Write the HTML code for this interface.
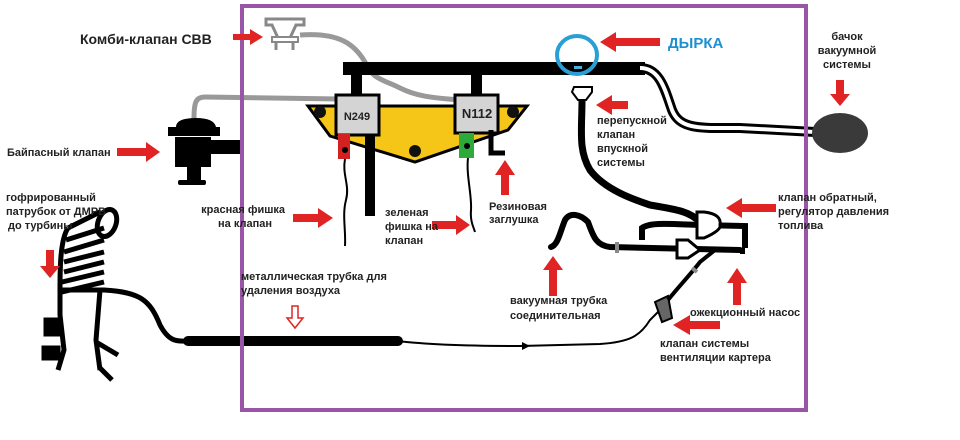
<!DOCTYPE html>
<html><head><meta charset="utf-8"><style>
html,body{margin:0;padding:0;background:#fff;}
svg{display:block;}
text{font-family:"Liberation Sans","DejaVu Sans",sans-serif;font-weight:bold;fill:#222;}
</style></head><body>
<svg width="960" height="440" viewBox="0 0 960 440" font-size="11" xmlns="http://www.w3.org/2000/svg">
<rect width="960" height="440" fill="#fff"/>

<path d="M300,35 C340,32 355,45 365,62 C372,80 385,80 400,88 C420,98 440,98 458,100" fill="none" stroke="#999" stroke-width="5"/>
<path d="M340,99 L205,97 C196,97 194,102 194,118" fill="none" stroke="#999" stroke-width="5"/>

<path d="M266,19 L304,19 L304,25 L296,25 L290,38 L278,38 L272,25 L266,25 Z" fill="#fff" stroke="#888" stroke-width="3"/>
<rect x="272" y="37" width="26" height="5" fill="#fff" stroke="#888" stroke-width="2"/>
<line x1="276" y1="42" x2="276" y2="50" stroke="#888" stroke-width="3"/>
<line x1="293" y1="42" x2="293" y2="50" stroke="#888" stroke-width="3"/>

<rect x="343" y="62" width="302" height="13" fill="#000"/>
<rect x="351" y="74" width="11" height="24" fill="#000"/>
<rect x="471" y="74" width="11" height="24" fill="#000"/>
<path d="M640,68 C660,68 665,90 672,110 C680,130 700,128 740,128 L815,132" fill="none" stroke="#000" stroke-width="10"/>
<path d="M640,68 C660,68 665,90 672,110 C680,130 700,128 740,128 L815,132" fill="none" stroke="#fff" stroke-width="4"/>
<ellipse cx="840" cy="133" rx="28" ry="20" fill="#3a3a3a"/>

<polygon points="308,106 527,106 508,130 415,162 330,136" fill="#f5c518" stroke="#000" stroke-width="3"/>
<circle cx="320" cy="112" r="6" fill="#111"/>
<circle cx="513" cy="112" r="6" fill="#111"/>
<circle cx="415" cy="151" r="6" fill="#111"/>
<rect x="365" y="128" width="10" height="88" fill="#000"/>
<rect x="336" y="95" width="43" height="40" fill="#d4d4d4" stroke="#000" stroke-width="3"/>
<text x="357" y="120" text-anchor="middle" font-size="11">N249</text>
<rect x="455" y="95" width="43" height="38" fill="#d4d4d4" stroke="#000" stroke-width="3"/>
<text x="477" y="118" text-anchor="middle" font-size="13">N112</text>
<rect x="338" y="134" width="12" height="25" fill="#d32020"/>
<circle cx="345" cy="150" r="3" fill="#000"/>
<rect x="459" y="133" width="15" height="25" fill="#2eaa3a"/>
<circle cx="467" cy="146" r="3" fill="#000"/>
<path d="M491,130 L491,153 L505,153" fill="none" stroke="#000" stroke-width="5"/>
<path d="M345,159 C342,175 350,185 346,200 C342,215 346,230 345,246" fill="none" stroke="#000" stroke-width="2"/>
<path d="M468,158 C466,175 472,195 471,210 C470,222 474,228 475,232" fill="none" stroke="#000" stroke-width="2"/>

<path d="M176,127 Q176,118 196,118 Q214,118 216,127 Z" fill="#000"/>
<rect x="168" y="127" width="52" height="9" fill="#000"/>
<rect x="175" y="137" width="36" height="30" fill="#000"/>
<rect x="211" y="140" width="30" height="14" fill="#000"/>
<rect x="187" y="167" width="14" height="14" fill="#000"/>
<rect x="178" y="180" width="28" height="5" rx="2" fill="#000"/>

<g fill="none" stroke="#000" stroke-width="5">
<ellipse cx="107" cy="223" rx="9" ry="14" transform="rotate(20 107 223)"/>
<path d="M100,212 L68,228 M104,228 L66,240 M104,240 L64,252 M104,252 L64,262 M104,262 L64,272 M104,272 L62,282 M104,282 L62,292"/>
<path d="M68,228 C60,240 60,270 60,290 L60,315 L64,350 L58,370 M100,290 L96,340 L100,370 M96,342 L118,355 M100,368 L112,380"/>
<path d="M60,290 L104,290 C140,292 150,300 160,325 C168,340 175,342 188,341"/>
<rect x="46" y="320" width="12" height="14" fill="#000"/>
<rect x="44" y="348" width="14" height="10" fill="#000"/>
</g>

<line x1="188" y1="341" x2="398" y2="341" stroke="#000" stroke-width="10" stroke-linecap="round"/>
<path d="M398,341 C430,345 480,346 520,346 L600,344 C630,342 640,336 650,320 L660,310" fill="none" stroke="#000" stroke-width="2"/>
<polygon points="522,342 530,346 522,350" fill="#000"/>
<polygon points="655,302 668,296 672,318 662,322" fill="#666" stroke="#000" stroke-width="2"/>
<path d="M668,300 C680,285 690,275 700,262 L715,250" fill="none" stroke="#000" stroke-width="4"/>
<line x1="692" y1="268" x2="697" y2="272" stroke="#888" stroke-width="4"/>

<path d="M574,87 L592,87 L592,92 L586,100 L578,100 L572,92 Z" fill="#fff" stroke="#000" stroke-width="2"/>
<path d="M582,100 C582,130 578,150 590,170 C605,190 635,200 650,205 C680,210 690,212 700,222" fill="none" stroke="#000" stroke-width="7"/>
<path d="M551,247 C558,245 560,232 565,220 C570,212 580,214 588,222 C593,235 595,245 610,247 L740,250" fill="none" stroke="#000" stroke-width="6" stroke-linecap="round"/>
<line x1="617" y1="242" x2="617" y2="253" stroke="#888" stroke-width="4"/>
<path d="M642,240 L642,228 C650,222 670,224 700,225 L745,226 L745,248" fill="none" stroke="#000" stroke-width="6"/>
<path d="M697,212 L697,238 L704,238 Q722,230 720,225 Q722,214 704,212 Z" fill="#fff" stroke="#000" stroke-width="3"/>
<path d="M677,240 L677,258 L688,258 L700,250 L688,240 Z" fill="#fff" stroke="#000" stroke-width="3"/>
<line x1="740" y1="251" x2="745" y2="251" stroke="#000" stroke-width="6"/>

<ellipse cx="577" cy="55" rx="20" ry="19" fill="none" stroke="#2a9fd6" stroke-width="4"/>
<rect x="574" y="66" width="8" height="3" fill="#4ab0e0"/>

<rect x="242" y="6" width="564" height="404" fill="none" stroke="#9b55a8" stroke-width="4"/>

<g fill="#e02424">
<polygon points="233,34 250,34 250,29 263,37 250,45 250,40 233,40"/>
<polygon points="117,148 146,148 146,142 160,152 146,162 146,156 117,156"/>
<polygon points="46,250 54,250 54,266 60,266 50,278 40,266 46,266"/>
<polygon points="293,214 318,214 318,208 333,218 318,228 318,222 293,222"/>
<polygon points="432,221 456,221 456,215 470,225 456,235 456,229 432,229"/>
<polygon points="501,195 509,195 509,175 515,175 505,160 495,175 501,175"/>
<polygon points="660,38 616,38 616,32 600,42 616,52 616,46 660,46"/>
<polygon points="628,101 612,101 612,95 596,105 612,115 612,109 628,109"/>
<polygon points="836,80 844,80 844,94 850,94 840,106 830,94 836,94"/>
<polygon points="776,204 742,204 742,198 726,208 742,218 742,212 776,212"/>
<polygon points="549,296 557,296 557,270 563,270 553,256 543,270 549,270"/>
<polygon points="733,305 741,305 741,283 747,283 737,268 727,283 733,283"/>
<polygon points="720,321 690,321 690,315 673,325 690,335 690,329 720,329"/>
</g>
<polygon points="292,306 298,306 298,318 303,318 295,328 287,318 292,318" fill="#fff" stroke="#e02424" stroke-width="1.5"/>

<text x="80" y="44" font-size="14">Комби-клапан СВВ</text>
<text x="668" y="48" font-size="15" style="fill:#1e8fd0">ДЫРКА</text>
<text x="7" y="156">Байпасный клапан</text>
<text x="6" y="201">гофрированный</text>
<text x="6" y="215">патрубок от ДМРВ</text>
<text x="8" y="229">до турбины</text>
<text x="285" y="213" text-anchor="end">красная фишка</text>
<text x="272" y="227" text-anchor="end">на клапан</text>
<text x="385" y="216">зеленая</text>
<text x="385" y="230">фишка на</text>
<text x="385" y="244">клапан</text>
<text x="489" y="210">Резиновая</text>
<text x="489" y="223">заглушка</text>
<text x="241" y="280">металлическая трубка для</text>
<text x="241" y="294">удаления воздуха</text>
<text x="597" y="124">перепускной</text>
<text x="597" y="138">клапан</text>
<text x="597" y="152">впускной</text>
<text x="597" y="166">системы</text>
<text x="847" y="40" text-anchor="middle">бачок</text>
<text x="847" y="54" text-anchor="middle">вакуумной</text>
<text x="847" y="68" text-anchor="middle">системы</text>
<text x="778" y="201">клапан обратный,</text>
<text x="778" y="215">регулятор давления</text>
<text x="778" y="229">топлива</text>
<text x="510" y="304">вакуумная трубка</text>
<text x="510" y="319">соединительная</text>
<text x="690" y="316">ожекционный насос</text>
<text x="660" y="347">клапан системы</text>
<text x="660" y="361">вентиляции картера</text>
</svg>
</body></html>
